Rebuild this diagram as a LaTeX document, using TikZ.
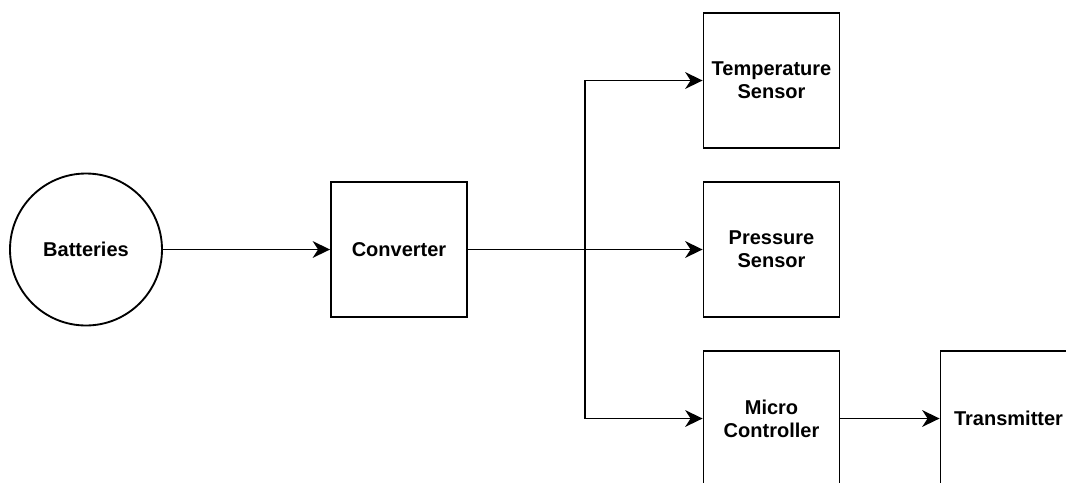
\documentclass[tikz,border=0pt]{standalone}
\usepackage{fontspec}
\setmainfont{Liberation Sans}
\usetikzlibrary{arrows.meta}
\tikzset{
  block/.style={draw, line width=1.4pt, minimum width=102pt, minimum height=101.5pt,
    inner sep=0pt, align=center, font=\bfseries\fontsize{15}{17.25}\selectfont},
  source/.style={draw, circle, line width=1.4pt, minimum size=114pt, inner sep=0pt,
    font=\bfseries\fontsize{15}{17.25}\selectfont},
  arr/.style={line width=1.4pt, -{Stealth[length=13pt, width=12.5pt, inset=4pt]}}
}
\begin{document}
\begin{tikzpicture}[x=0.75pt, y=-0.75pt]
          \useasboundingbox (0,0) rectangle (1066,482);

          % blocks
          \node[source] (bat) at (86,249.5) {Batteries};
          \node[block] (conv) at (399,249.5) {Converter};
          \node[block] (temp) at (771.5,80.5) {Temperature\\Sensor};
          \node[block] (pres) at (771.5,249.5) {Pressure\\Sensor};
          \node[block] (micro) at (771.5,418.5) {Micro\\Controller};
          \node[block] (trans) at (1008.5,418.5) {Transmitter};

          \coordinate (split) at (585,249.5);

          % connections
          \draw[arr] (bat) -- (conv);
          \draw[arr] (conv.east) -- (split) |- (temp.west);
          \draw[arr] (conv.east) -- (pres.west);
          \draw[arr] (split) |- (micro.west);
          \draw[arr] (micro) -- (trans);
        \end{tikzpicture}
\end{document}
